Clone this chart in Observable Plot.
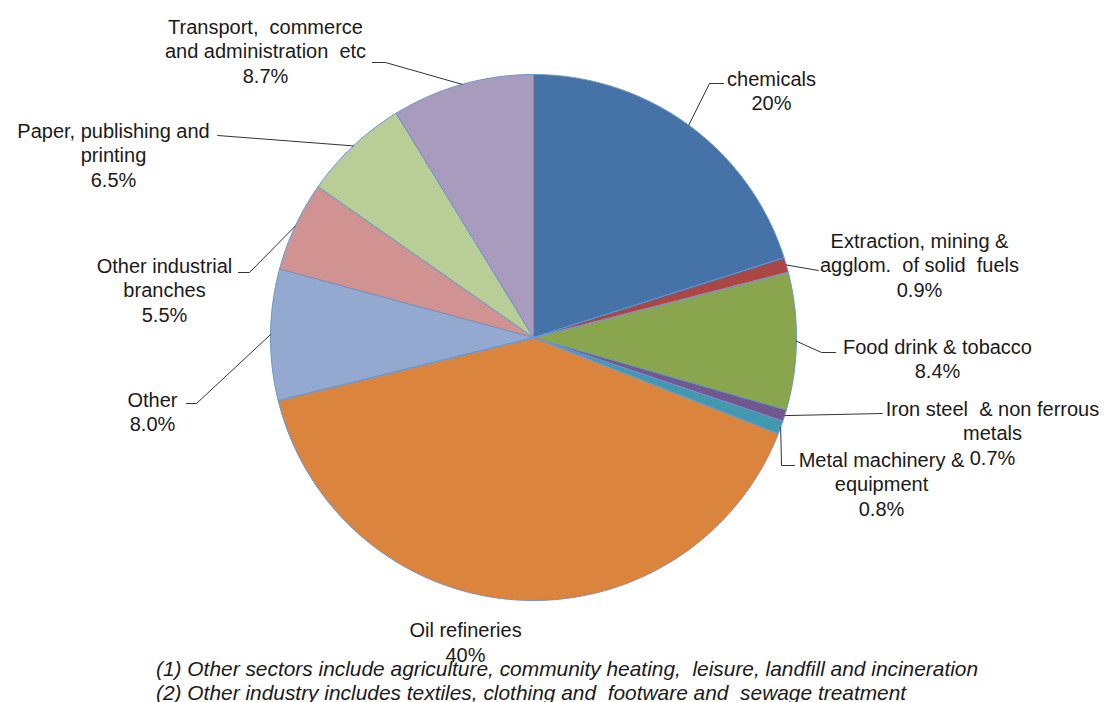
<!DOCTYPE html>
<html>
<head>
<meta charset="utf-8">
<script src="https://cdn.jsdelivr.net/npm/d3@7"></script>
<script src="https://cdn.jsdelivr.net/npm/@observablehq/plot@0.6"></script>
<style>
  html, body { margin: 0; padding: 0; background: #fff; }
  #wrap { position: relative; width: 1104px; height: 702px; }
  .note { position: absolute; left: 156px; font-family: "Liberation Sans Narrow", "Liberation Sans", Arial, sans-serif; font-style: italic; font-size: 20.9px; color: #1a1a1a; white-space: pre; line-height: 24px; }
</style>
</head>
<body>
<div id="wrap"></div>
<script>
// ---- data ----
const sectors = [
  "chemicals",
  "Extraction, mining & agglom. of solid fuels",
  "Food drink & tobacco",
  "Iron steel & non ferrous metals",
  "Metal machinery & equipment",
  "Oil refineries",
  "Other",
  "Other industrial branches",
  "Paper, publishing and printing",
  "Transport, commerce and administration etc"
];
const shares = [20, 0.9, 8.4, 0.7, 0.8, 40, 8.0, 5.5, 6.5, 8.7];
const valueLabels = ["20%", "0.9%", "8.4%", "0.7%", "0.8%", "40%", "8.0%", "5.5%", "6.5%", "8.7%"];
const labelLines = [
  ["chemicals"],
  ["Extraction, mining &", "agglom.  of solid  fuels"],
  ["Food drink & tobacco"],
  ["Iron steel  & non ferrous", "metals"],
  ["Metal machinery &", "equipment"],
  ["Oil refineries"],
  ["Other"],
  ["Other industrial", "branches"],
  ["Paper, publishing and", "printing"],
  ["Transport,  commerce", "and administration  etc"]
];
const colors = ["#4572A7", "#AA4643", "#89A54E", "#71588F", "#4198AF", "#DB843D", "#93A9CF", "#D19392", "#B9CD96", "#A99BBD"];
const notes = [
  "(1) Other sectors include agriculture, community heating,  leisure, landfill and incineration",
  "(2) Other industry includes textiles, clothing and  footware and  sewage treatment"
];

// ---- layout (pixel space) ----
const W = 1104, H = 702;
const cx = 533, cy = 337, R = 263;
// label block centers
const labelPos = [
  [771, 89.5], [919, 264], [937, 357.5], [992, 432], [881, 483],
  [465, 641], [152, 410.5], [164, 289], [113, 154], [265, 50]
];
// leader: [start, elbow] (arc end computed from slice mid-angle); null = no leader
const leaderPts = [
  [[723, 83], [709, 83]],
  [[818, 270], [818, 270]],
  [[835, 352], [821, 352]],
  [[882, 413], [882, 413]],
  [[794, 465], [781, 465]],
  null,
  [[186, 403], [196, 403]],
  [[238, 272], [249, 272]],
  [[217, 135], [217, 135]],
  [[372, 62], [385, 62]]
];

const pie = d3.pie().sort(null).value(d => d)(shares);
const pt = (a, r) => [cx + r * Math.sin(a), cy - r * Math.cos(a)];

const slicePts = [];
pie.forEach((p, i) => {
  slicePts.push({key: sectors[i], x: cx, y: cy});
  const n = Math.max(2, Math.ceil((p.endAngle - p.startAngle) / 0.01));
  for (let k = 0; k <= n; k++) {
    const a = p.startAngle + (p.endAngle - p.startAngle) * k / n;
    const [x, y] = pt(a, R);
    slicePts.push({key: sectors[i], x, y});
  }
  slicePts.push({key: sectors[i], x: cx, y: cy});
});

const leaders = [];
pie.forEach((p, i) => {
  if (!leaderPts[i]) return;
  const mid = (p.startAngle + p.endAngle) / 2;
  const [ex, ey] = pt(mid, R);
  leaderPts[i].forEach(([x, y]) => leaders.push({key: sectors[i], x, y}));
  leaders.push({key: sectors[i], x: ex, y: ey});
});

const labels = sectors.map((s, i) => ({
  key: s,
  text: labelLines[i].concat([valueLabels[i]]).join("\n"),
  x: labelPos[i][0],
  y: labelPos[i][1]
}));

const chart = Plot.plot({
  width: W,
  height: H,
  margin: 0,
  x: {domain: [0, W], range: [0, W], axis: null},
  y: {domain: [0, H], range: [0, H], axis: null},
  color: {domain: sectors, range: colors},
  style: {fontFamily: "'Liberation Sans', Arial, sans-serif", background: "#fff"},
  marks: [
    Plot.line(slicePts, {x: "x", y: "y", z: "key", fill: "key", stroke: "#6a95cf", strokeWidth: 1, curve: "linear"}),
    Plot.line(leaders, {x: "x", y: "y", z: "key", stroke: "#333", strokeWidth: 1}),
    Plot.text(labels, {x: "x", y: "y", text: "text", fontSize: 20, lineHeight: 1.225, lineAnchor: "middle", textAnchor: "middle", fill: "#1a1a1a"})
  ]
});

const wrap = document.getElementById("wrap");
wrap.appendChild(chart);
notes.forEach((t, i) => {
  const d = document.createElement("div");
  d.className = "note";
  d.style.top = (657 + i * 24) + "px";
  d.textContent = t;
  wrap.appendChild(d);
});
</script>
</body>
</html>
